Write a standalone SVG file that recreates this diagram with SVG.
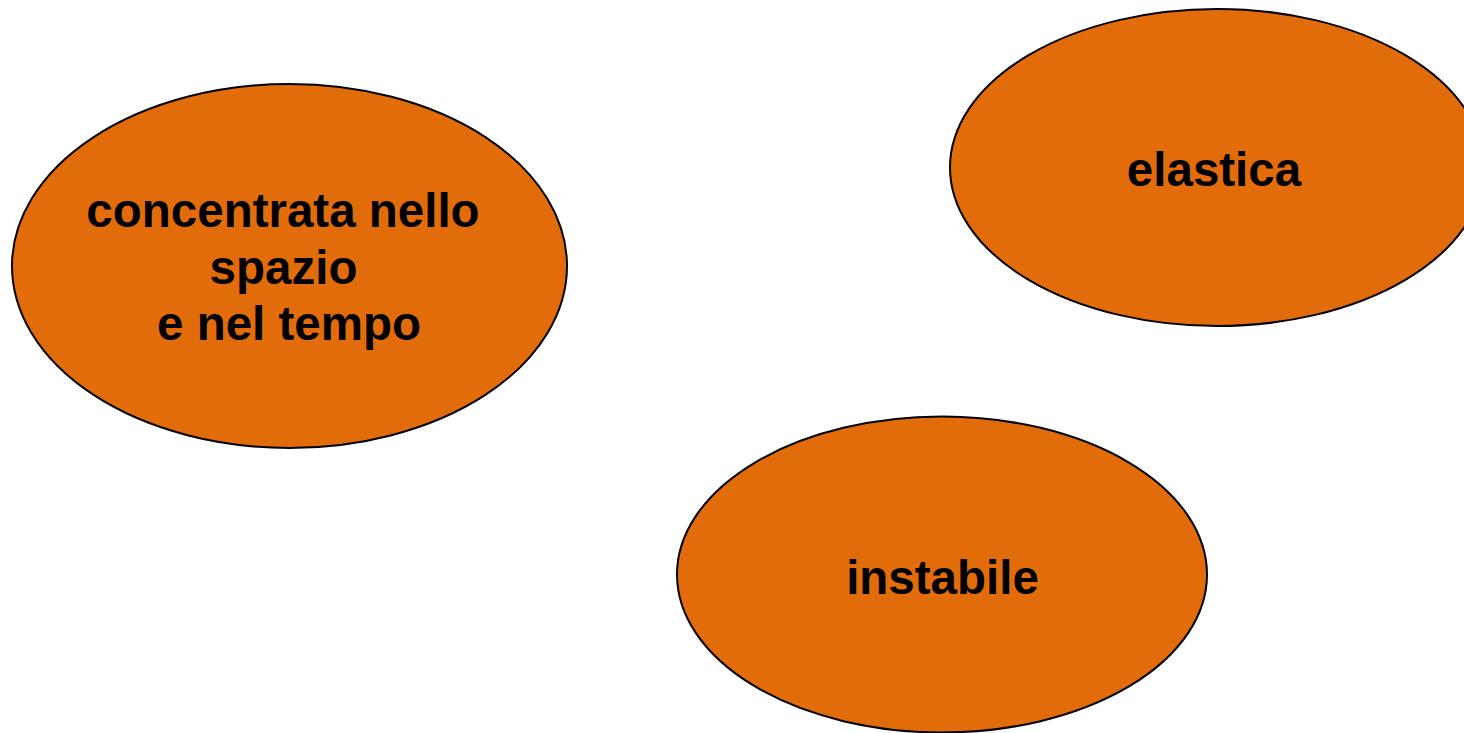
<svg xmlns="http://www.w3.org/2000/svg" width="1464" height="733" viewBox="0 0 1464 733">
  <style>
    .bubble { fill: #E36C0A; stroke: #000000; stroke-width: 2; }
    .label { font-family: "Liberation Sans", Arial, sans-serif; font-weight: bold; font-size: 47.5px; fill: #000000; text-anchor: middle; }
  </style>
  <rect x="0" y="0" width="1464" height="733" fill="#FFFFFF"/>
  <g id="node-concentrata">
    <ellipse class="bubble" cx="289.5" cy="266" rx="277.5" ry="182"/>
    <text class="label" x="283" y="227">concentrata nello</text>
    <text class="label" x="283.5" y="283.5">spazio</text>
    <text class="label" x="289" y="340">e nel tempo</text>
  </g>
  <g id="node-elastica">
    <ellipse class="bubble" cx="1217" cy="167.5" rx="267" ry="158.5"/>
    <text class="label" x="1214" y="186">elastica</text>
  </g>
  <g id="node-instabile">
    <ellipse class="bubble" cx="942" cy="574.5" rx="265" ry="158"/>
    <text class="label" x="942.5" y="594">instabile</text>
  </g>
  <g id="connectors"/>
</svg>
